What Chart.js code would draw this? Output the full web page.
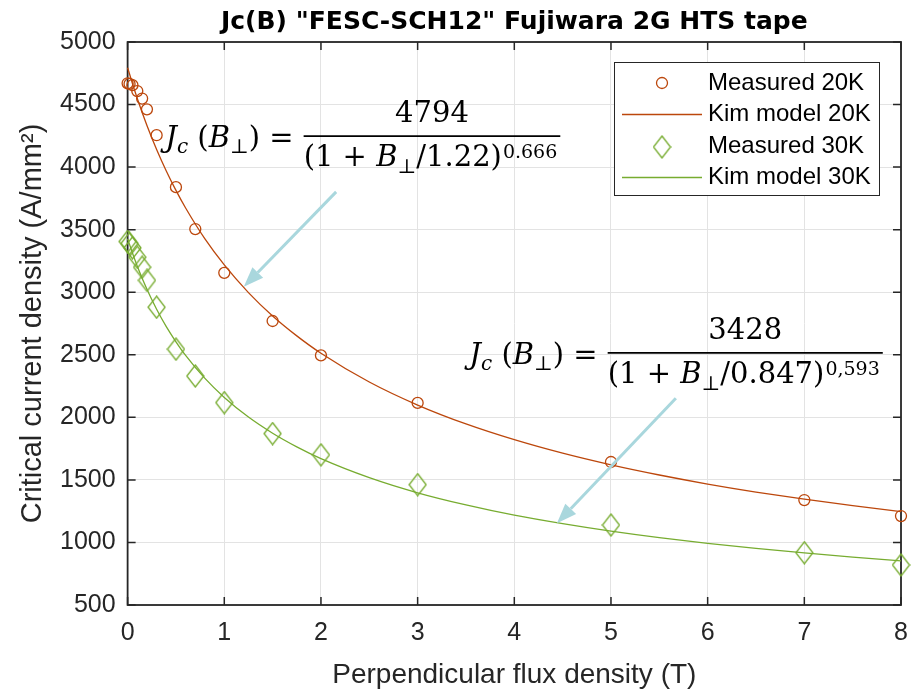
<!DOCTYPE html>
<html>
<head>
<meta charset="utf-8">
<title>Jc(B) FESC-SCH12 Fujiwara 2G HTS tape</title>
<script src="https://cdn.jsdelivr.net/npm/chart.js@4.4.1/dist/chart.umd.min.js"></script>
<style>
    html, body { margin: 0; padding: 0; background: #ffffff; }
    #jcChart { display: block; }
</style>
</head>
<body>
<canvas id="jcChart" width="913" height="692"></canvas>
<script>
// measured points
const fieldB = [0, 0.02, 0.05, 0.1, 0.15, 0.2, 0.3, 0.5, 0.7, 1, 1.5, 2, 3, 5, 7, 8];
const measured20K = [4670, 4665, 4655, 4608, 4548, 4462, 4255, 3840, 3505, 3155, 2770, 2495, 2115, 1643, 1339, 1211];
const measured30K = [3405, 3390, 3355, 3280, 3200, 3095, 2880, 2545, 2330, 2118, 1870, 1700, 1462, 1139, 918, 820];

// Kim model curves
const modelB = [0, 0.05, 0.1, 0.2, 0.3, 0.4, 0.5, 0.6, 0.8, 1, 1.25, 1.5, 1.75, 2, 2.5, 3, 3.5, 4, 4.5, 5, 5.5, 6, 6.5, 7, 7.5, 8];
const model20K = [4794, 4668, 4549, 4333, 4141, 3969, 3814, 3673, 3426, 3218, 2997, 2810, 2651, 2512, 2282, 2098, 1947, 1821, 1713, 1620, 1539, 1467, 1403, 1346, 1294, 1247];
const model30K = [3428, 3313, 3208, 3023, 2864, 2725, 2604, 2495, 2311, 2159, 2002, 1873, 1764, 1670, 1518, 1397, 1300, 1218, 1150, 1090, 1038, 993, 952, 916, 883, 853];

const seriesLabels = ['Measured 20K', 'Kim model 20K', 'Measured 30K', 'Kim model 30K'];
const xTicks = [0, 1, 2, 3, 4, 5, 6, 7, 8];
const yTicks = [500, 1000, 1500, 2000, 2500, 3000, 3500, 4000, 4500, 5000];

// fit formulas written on the chart
const formulas = [
    { b: 0.39, j: 4247, num: '4794', b0: '1.22', exp: '0.666' },
    { b: 3.535, j: 2516, num: '3428', b0: '0.847', exp: '0,593' }
];
const arrows = [
    { fromB: 2.157, fromJ: 3802, toB: 1.202, toJ: 3043 },
    { fromB: 5.671, fromJ: 2152, toB: 4.441, toJ: 1153 }
];

const red = '#bc470c';
const green = '#77ac30';
const axisColor = '#262626';
const sansFont = '"Liberation Sans", Arial, sans-serif';
const serifFont = '"DejaVu Serif", serif';

function makeDiamond(color) {
    const c = document.createElement('canvas');
    c.width = 19;
    c.height = 24;
    const g = c.getContext('2d');
    g.strokeStyle = color;
    g.lineWidth = 1.3;
    g.beginPath();
    g.moveTo(9.5, 1);
    g.lineTo(18, 12);
    g.lineTo(9.5, 23);
    g.lineTo(1, 12);
    g.closePath();
    g.stroke();
    return c;
}
const diamond = makeDiamond(green);

function toPoints(xs, ys) {
    return xs.map((x, i) => ({ x: x, y: ys[i] }));
}

// axes box with inward ticks, like the original figure
const boxPlugin = {
    id: 'boxPlugin',
    beforeDatasetsDraw(chart) {
        const { ctx, chartArea: a, scales } = chart;
        ctx.save();
        ctx.strokeStyle = axisColor;
        ctx.lineWidth = 1.8;
        ctx.strokeRect(a.left, a.top, a.right - a.left, a.bottom - a.top);
        ctx.lineWidth = 1.5;
        ctx.beginPath();
        xTicks.forEach(v => {
            const px = scales.x.getPixelForValue(v);
            ctx.moveTo(px, a.bottom); ctx.lineTo(px, a.bottom - 8);
            ctx.moveTo(px, a.top); ctx.lineTo(px, a.top + 8);
        });
        yTicks.forEach(v => {
            const py = scales.y.getPixelForValue(v);
            ctx.moveTo(a.left, py); ctx.lineTo(a.left + 8, py);
            ctx.moveTo(a.right, py); ctx.lineTo(a.right - 8, py);
        });
        ctx.stroke();
        ctx.restore();
    }
};

function drawFormula(ctx, x, y, f) {
    const big = '29px ' + serifFont;
    const ital = 'italic 29px ' + serifFont;
    const sub = 'italic 20px ' + serifFont;
    const small = '20px ' + serifFont;
    const expFont = '19px ' + serifFont;
    ctx.fillStyle = '#000';
    ctx.textAlign = 'left';
    ctx.textBaseline = 'alphabetic';

    let cx = x;
    const put = (t, font, baseY) => {
        ctx.font = font;
        ctx.fillText(t, cx, baseY);
        cx += ctx.measureText(t).width;
    };
    const lhsBase = y + 11;
    put('J', ital, lhsBase);
    put('c', sub, lhsBase + 6);
    put(' (', big, lhsBase);
    put('B', ital, lhsBase);
    put('\u22A5', small, lhsBase + 6);
    put(') =', big, lhsBase);
    const lineStart = cx + 10;

    // denominator
    cx = lineStart;
    const denBase = y + 30;
    put('(1 + ', big, denBase);
    put('B', ital, denBase);
    put('\u22A5', small, denBase + 7);
    put('/' + f.b0 + ')', big, denBase);
    cx += 1;
    put(f.exp, expFont, y + 22);
    const lineEnd = cx + 3;

    ctx.strokeStyle = '#000';
    ctx.lineWidth = 1.8;
    ctx.beginPath();
    ctx.moveTo(lineStart, y);
    ctx.lineTo(lineEnd, y);
    ctx.stroke();

    ctx.font = big;
    ctx.textAlign = 'center';
    ctx.fillText(f.num, (lineStart + lineEnd) / 2, y - 14);
}

function drawArrow(ctx, x0, y0, x1, y1) {
    const ang = Math.atan2(y1 - y0, x1 - x0);
    const headLen = 20;
    const headHalf = 7.5;
    const bx = x1 - headLen * Math.cos(ang);
    const by = y1 - headLen * Math.sin(ang);
    ctx.strokeStyle = '#a9d7dd';
    ctx.fillStyle = '#a9d7dd';
    ctx.lineWidth = 3;
    ctx.beginPath();
    ctx.moveTo(x0, y0);
    ctx.lineTo(bx, by);
    ctx.stroke();
    ctx.beginPath();
    ctx.moveTo(x1, y1);
    ctx.lineTo(bx + headHalf * Math.sin(ang), by - headHalf * Math.cos(ang));
    ctx.lineTo(bx - headHalf * Math.sin(ang), by + headHalf * Math.cos(ang));
    ctx.closePath();
    ctx.fill();
}

const notesPlugin = {
    id: 'notesPlugin',
    afterDatasetsDraw(chart) {
        const { ctx, scales: { x, y } } = chart;
        ctx.save();
        arrows.forEach(a => {
            drawArrow(ctx, x.getPixelForValue(a.fromB), y.getPixelForValue(a.fromJ),
                x.getPixelForValue(a.toB), y.getPixelForValue(a.toJ));
        });
        formulas.forEach(f => {
            drawFormula(ctx, x.getPixelForValue(f.b), y.getPixelForValue(f.j), f);
        });
        ctx.restore();
    }
};

// legend box in the upper right corner
const legendPlugin = {
    id: 'legendPlugin',
    afterDatasetsDraw(chart) {
        const ctx = chart.ctx;
        const left = 614, top = 62, w = 265, h = 133;
        ctx.save();
        ctx.fillStyle = '#ffffff';
        ctx.fillRect(left, top, w, h);
        ctx.strokeStyle = axisColor;
        ctx.lineWidth = 1;
        ctx.strokeRect(left + 0.5, top + 0.5, w, h);
        chart.data.datasets.forEach((ds, i) => {
            const rowY = top + 21 + i * 31.5;
            if (ds.showLine) {
                ctx.strokeStyle = ds.borderColor;
                ctx.lineWidth = 1.3;
                ctx.beginPath();
                ctx.moveTo(left + 8, rowY);
                ctx.lineTo(left + 88, rowY);
                ctx.stroke();
            } else if (ds.pointStyle === 'circle') {
                ctx.strokeStyle = ds.borderColor;
                ctx.lineWidth = 1.3;
                ctx.beginPath();
                ctx.arc(left + 48, rowY, 5.5, 0, Math.PI * 2);
                ctx.stroke();
            } else {
                ctx.drawImage(ds.pointStyle, left + 48 - ds.pointStyle.width / 2, rowY - ds.pointStyle.height / 2 + 1);
            }
            ctx.fillStyle = '#000';
            ctx.font = '24px ' + sansFont;
            ctx.textAlign = 'left';
            ctx.textBaseline = 'middle';
            ctx.fillText(ds.label, left + 94, rowY);
        });
        ctx.restore();
    }
};

const ctxJc = document.getElementById('jcChart').getContext('2d');
const jcChart = new Chart(ctxJc, {
    type: 'scatter',
    data: {
        datasets: [
            {
                label: seriesLabels[0],
                data: toPoints(fieldB, measured20K),
                showLine: false,
                pointStyle: 'circle',
                pointRadius: 5.5,
                borderColor: red,
                borderWidth: 1.3,
                backgroundColor: 'rgba(0,0,0,0)',
                clip: false
            },
            {
                label: seriesLabels[1],
                data: toPoints(modelB, model20K),
                showLine: true,
                pointRadius: 0,
                borderColor: red,
                borderWidth: 1.3,
                cubicInterpolationMode: 'monotone',
                clip: false
            },
            {
                label: seriesLabels[2],
                data: toPoints(fieldB, measured30K),
                showLine: false,
                pointStyle: diamond,
                pointRadius: 10,
                borderColor: green,
                borderWidth: 1.3,
                backgroundColor: 'rgba(0,0,0,0)',
                clip: false
            },
            {
                label: seriesLabels[3],
                data: toPoints(modelB, model30K),
                showLine: true,
                pointRadius: 0,
                borderColor: green,
                borderWidth: 1.3,
                cubicInterpolationMode: 'monotone',
                clip: false
            }
        ]
    },
    options: {
        responsive: false,
        animation: false,
        devicePixelRatio: 1,
        layout: {
            padding: { left: 0, right: 12, top: 0, bottom: 0 }
        },
        scales: {
            x: {
                type: 'linear',
                min: 0,
                max: 8,
                border: { display: false },
                grid: { color: '#e3e3e3', lineWidth: 1, drawTicks: false },
                ticks: {
                    stepSize: 1,
                    padding: 0,
                    color: axisColor,
                    font: { family: sansFont, size: 25, lineHeight: 2.24 },
                    callback: (v) => String(v)
                },
                title: {
                    display: true,
                    text: 'Perpendicular flux density (T)',
                    color: axisColor,
                    font: { family: sansFont, size: 28, lineHeight: 1 },
                    padding: { top: 0, bottom: 3 }
                }
            },
            y: {
                type: 'linear',
                min: 500,
                max: 5000,
                border: { display: false },
                grid: { color: '#e3e3e3', lineWidth: 1, drawTicks: false },
                ticks: {
                    stepSize: 500,
                    padding: 12,
                    color: axisColor,
                    font: { family: sansFont, size: 25 },
                    callback: (v) => String(v)
                },
                title: {
                    display: true,
                    text: 'Critical current density (A/mm\u00B2)',
                    color: axisColor,
                    font: { family: sansFont, size: 29, lineHeight: 1 },
                    padding: { top: 18, bottom: 1 }
                }
            }
        },
        plugins: {
            legend: { display: false },
            tooltip: { enabled: false },
            title: {
                display: true,
                fullSize: false,
                text: 'Jc(B) "FESC-SCH12" Fujiwara 2G HTS tape',
                color: '#000',
                font: { family: '"DejaVu Sans", sans-serif', size: 25, weight: 'bold' },
                padding: { top: 7, bottom: 5 }
            }
        }
    },
    plugins: [boxPlugin, notesPlugin, legendPlugin]
});
</script>
</body>
</html>
